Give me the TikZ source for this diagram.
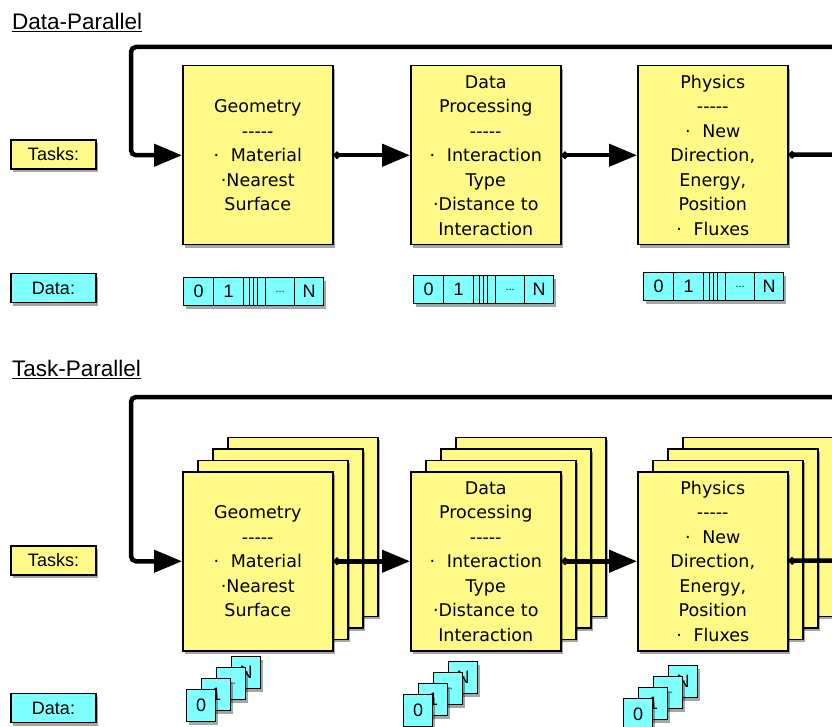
\documentclass[tikz,border=0pt]{standalone}
\usepackage{fontspec}
\setmainfont{Liberation Sans}
\newfontfamily\boxfont{DejaVu Sans}
\usepackage{tikz}
\usetikzlibrary{arrows.meta, shadows}
\definecolor{taskyellow}{RGB}{255,250,135}
\definecolor{datacyan}{RGB}{128,255,255}
\tikzstyle{softshadow} = [drop shadow={shadow xshift=2pt, shadow yshift=-3pt, opacity=0.35, fill=black}]
\tikzstyle{taskbox} = [rectangle, draw=black, line width=1.5pt, fill=taskyellow, minimum width=150pt, minimum height=179pt, text width=142pt, inner sep=4pt, align=center, font=\boxfont\fontsize{17.5}{24.5}\selectfont, softshadow]
\tikzstyle{cell} = [rectangle, draw=black, line width=1.2pt, fill=datacyan, minimum height=28pt, inner sep=0pt, font=\fontsize{18}{18}\selectfont, softshadow]
\tikzstyle{tag} = [rectangle, draw=black, line width=1.5pt, minimum width=85pt, minimum height=29pt, inner sep=0pt, font=\fontsize{18}{18}\selectfont, softshadow]
\tikzstyle{title} = [anchor=base west, inner sep=0pt, font=\fontsize{22.5}{22.5}\selectfont]
\tikzstyle{arrow} = [line width=4.5pt, {Circle[length=7pt]}-{Triangle[length=28pt,width=22pt]}]
\tikzstyle{exit} = [line width=4.5pt, {Circle[length=7pt]}-]
\tikzstyle{loop} = [line width=4.5pt, rounded corners=5pt, -{Triangle[length=28pt,width=22pt]}]
\newcommand{\celldots}{\fontsize{11}{11}\selectfont ...}
% one row of data cells: name, left, top
\newcommand{\dataarray}[3]{%
  \foreach \ox/\w/\t [count=\k] in {0/30/0,30/30/1,60/6/,66/4/,70/4/,74/8/,82/29/\celldots,111/29/N}
    \node (#1c\k) [cell, minimum width=\w pt, anchor=north west] at (#2+\ox,#3) {\t};
}
% a pile of data cells: name, left, top of the front cell
\newcommand{\datastack}[3]{%
  \foreach \i/\t in {3/N,2/\celldots,1/1,0/0}
    \node (#1s\i) [cell, minimum width=29pt, minimum height=32pt, anchor=north west] at (#2+15*\i,#3-11*\i) {\t};
}

\begin{document}
\begin{tikzpicture}[x=1pt, y=-1pt]
\useasboundingbox (0,0) rectangle (832,727);

% Data-Parallel
\node (dptitle) [title] at (12,29.5) {\underline{Data-Parallel}};
\node (dptasks) [tag, fill=taskyellow] at (53.5,154.5) {Tasks:};
\node (dpdata) [tag, fill=datacyan] at (53.5,288) {Data:};

\node (geo) [taskbox, anchor=north west] at (182,65) {Geometry\\-{}-{}-{}-{}-\\·\ \ Material\\·Nearest\\Surface};
\node (proc) [taskbox, anchor=north west] at (410,65) {Data\\Processing\\-{}-{}-{}-{}-\\·\ \ Interaction\\Type\\·Distance to\\Interaction};
\node (phys) [taskbox, anchor=north west] at (637,65) {Physics\\-{}-{}-{}-{}-\\·\ \ New\\Direction,\\Energy,\\Position\\·\ \ Fluxes};

\dataarray{geodata}{183}{277}
\dataarray{procdata}{413}{275}
\dataarray{physdata}{643}{272}

\coordinate (dpin) at (834,47);
\coordinate (dpcorner) at (131,47);
\coordinate (dpout) at (834,154.5);
\draw [loop] (dpin) -- (dpcorner) |- (geo.west);
\draw [arrow] (geo) -- (proc);
\draw [arrow] (proc) -- (phys);
\draw [exit] (phys) -- (dpout);

% Task-Parallel
\node (tptitle) [title] at (12,376.5) {\underline{Task-Parallel}};
\node (tptasks) [tag, fill=taskyellow] at (53.5,560.5) {Tasks:};
\node (tpdata) [tag, fill=datacyan] at (53.5,708) {Data:};

\foreach \i in {3,2,1} {
  \node (geoback\i) [taskbox, anchor=north west] at (182+15*\i,471-11.5*\i) {};
  \node (procback\i) [taskbox, anchor=north west] at (410+15*\i,471-11.5*\i) {};
  \node (physback\i) [taskbox, anchor=north west] at (637+15*\i,471-11.5*\i) {};
}
\node (geo2) [taskbox, anchor=north west] at (182,471) {Geometry\\-{}-{}-{}-{}-\\·\ \ Material\\·Nearest\\Surface};
\node (proc2) [taskbox, anchor=north west] at (410,471) {Data\\Processing\\-{}-{}-{}-{}-\\·\ \ Interaction\\Type\\·Distance to\\Interaction};
\node (phys2) [taskbox, anchor=north west] at (637,471) {Physics\\-{}-{}-{}-{}-\\·\ \ New\\Direction,\\Energy,\\Position\\·\ \ Fluxes};

\datastack{geopile}{186}{689}
\datastack{procpile}{403}{694}
\datastack{physpile}{623}{698}

\coordinate (tpin) at (834,397);
\coordinate (tpcorner) at (131,397);
\coordinate (tpout) at (834,560.5);
\draw [loop] (tpin) -- (tpcorner) |- (geo2.west);
\draw [arrow] (geo2) -- (proc2);
\draw [arrow] (proc2) -- (phys2);
\draw [exit] (phys2) -- (tpout);

\end{tikzpicture}
\end{document}
